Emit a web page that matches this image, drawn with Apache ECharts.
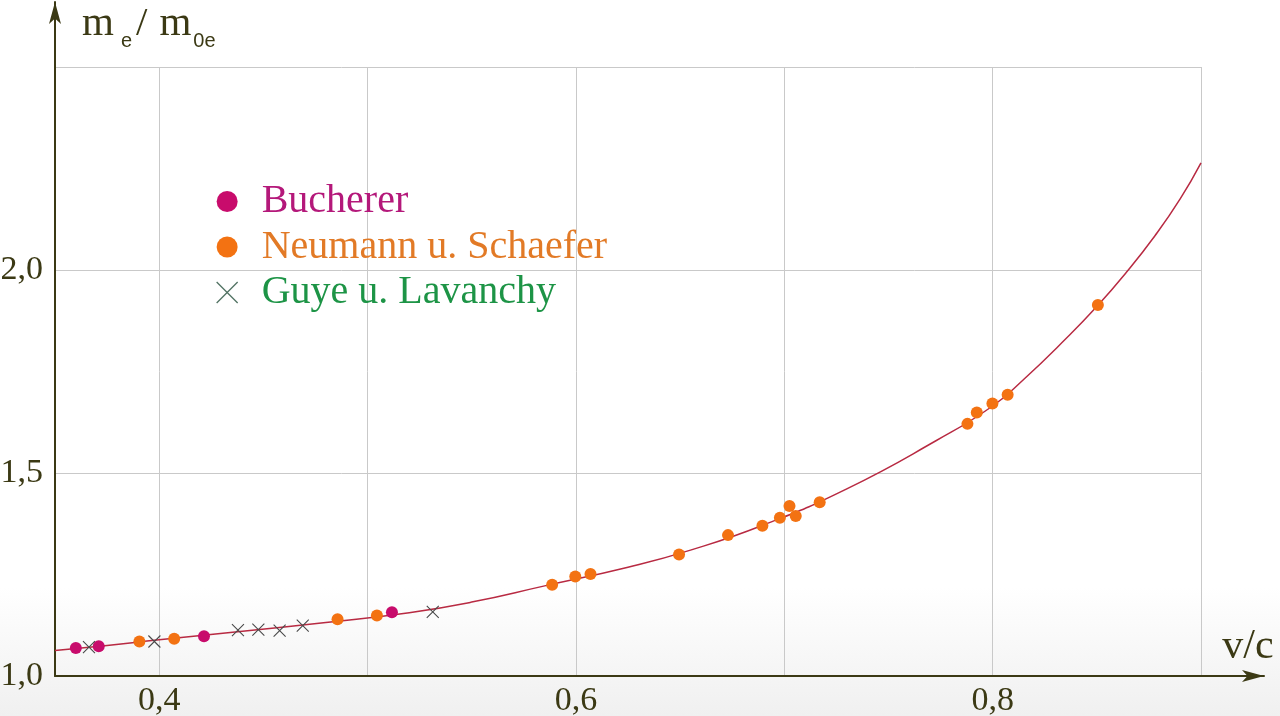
<!DOCTYPE html>
<html>
<head>
<meta charset="utf-8">
<script src="https://cdn.jsdelivr.net/npm/echarts@6/dist/echarts.min.js"></script>
<style>
html,body{margin:0;padding:0;background:#fff;}
#chart{width:1280px;height:716px;}
</style>
</head>
<body>
<div id="chart"></div>
<script>
// v/c , m_e/m_0e
var bucherer = [[0.360,1.069],[0.371,1.073],[0.4215,1.098],[0.5117,1.157]];
var neumann = [[0.3905,1.085],[0.4072,1.092],[0.4856,1.140],[0.5045,1.149],[0.5886,1.225],[0.5997,1.245],[0.6070,1.251],[0.6495,1.299],[0.6730,1.347],[0.6895,1.370],[0.6979,1.390],[0.7025,1.419],[0.7055,1.394],[0.7170,1.428],[0.7879,1.621],[0.7924,1.649],[0.7999,1.671],[0.8072,1.693],[0.8505,1.914]];
var guye = [[0.3663,1.071],[0.3977,1.085],[0.4378,1.113],[0.4476,1.114],[0.4578,1.112],[0.4689,1.124],[0.5313,1.158]];
var curve = [[0.350,1.063],[0.375,1.075],[0.400,1.089],[0.440,1.110],[0.480,1.132],[0.520,1.156],[0.550,1.182],[0.585,1.222],[0.625,1.268],[0.655,1.310],[0.690,1.372],[0.730,1.461],[0.773,1.580],[0.800,1.665],[0.815,1.731],[0.835,1.830],[0.850,1.910],[0.864,1.993],[0.878,2.085],[0.890,2.175],[0.900,2.264]];
var xTicks = [0.4,0.5,0.6,0.7,0.8,0.9];
var xLabels = [0.4,0.6,0.8];
var yTicks = [1.0,1.5,2.0,2.5];
var yLabels = [1.0,1.5,2.0];
var seriesNames = ['Bucherer','Neumann u. Schaefer','Guye u. Lavanchy'];

var FONT = '"Liberation Serif","DejaVu Serif",serif';
var SANS = '"Liberation Sans",Arial,sans-serif';
var AX = '#3b3914';
var CROSS = 'path://M0,0L10,10M10,0L0,10';
function fmt(v){return v.toFixed(1).replace('.',',');}

var chart = echarts.init(document.getElementById('chart'));
chart.setOption({
  backgroundColor: {type:'linear',x:0,y:0,x2:0,y2:1,colorStops:[{offset:0,color:'#ffffff'},{offset:0.82,color:'#ffffff'},{offset:1,color:'#f0f0f0'}]},
  animation:false,
  grid:[
    {left:55,right:79,top:67,bottom:40,containLabel:false,outerBoundsMode:'none'},
    {left:55,right:16,top:2,bottom:40,containLabel:false,outerBoundsMode:'none'}
  ],
  legend:{
    orient:'vertical',left:211,top:176,itemGap:4.5,itemWidth:21,itemHeight:21,
    textStyle:{fontFamily:FONT,fontSize:40,lineHeight:41,padding:[0,0,0,19]},
    data:[
      {name:seriesNames[0],icon:'circle',itemStyle:{color:'#c80c6c'},textStyle:{color:'#b4187a'}},
      {name:seriesNames[1],icon:'circle',itemStyle:{color:'#f37212'},textStyle:{color:'#e27a26'}},
      {name:seriesNames[2],icon:CROSS,itemStyle:{color:'transparent',borderColor:'#507262',borderWidth:1.3},textStyle:{color:'#1d9446'}}
    ]
  },
  xAxis:[
    {type:'value',gridIndex:0,min:0.35,max:0.9,
      axisLine:{show:false},axisTick:{show:false,customValues:xTicks},
      splitLine:{show:true,lineStyle:{color:'#c9c9c9',width:1}},
      axisLabel:{customValues:xLabels,formatter:fmt,fontFamily:FONT,fontSize:34,color:AX,margin:8}},
    {type:'value',gridIndex:1,min:0,max:1,
      axisLine:{show:true,symbol:['none','arrow'],symbolSize:[9,22],lineStyle:{color:AX,width:2}},
      axisTick:{show:false},axisLabel:{show:false},splitLine:{show:false},
      name:'v/c',nameLocation:'end',nameGap:-16,
      nameTextStyle:{fontFamily:FONT,fontSize:42,color:AX,align:'center',verticalAlign:'bottom',padding:[0,0,8,0]}}
  ],
  yAxis:[
    {type:'value',gridIndex:0,min:1,max:2.5,
      axisLine:{show:false},axisTick:{show:false,customValues:yTicks},
      splitLine:{show:true,lineStyle:{color:'#c9c9c9',width:1}},
      axisLabel:{customValues:yLabels,formatter:fmt,fontFamily:FONT,fontSize:34,color:AX,margin:12}},
    {type:'value',gridIndex:1,min:0,max:1,
      axisLine:{show:true,symbol:['none','arrow'],symbolSize:[9,22],lineStyle:{color:AX,width:2}},
      axisTick:{show:false},axisLabel:{show:false},splitLine:{show:false},
      name:'{m|m}{s1|e}{sl|/}{m2|m}{s2|0e}',nameLocation:'end',nameGap:-21,
      nameTextStyle:{align:'left',verticalAlign:'middle',padding:[0,0,0,27],
        rich:{
          m:{fontFamily:FONT,fontSize:41,color:AX,lineHeight:44,verticalAlign:'bottom'},
          sl:{fontFamily:FONT,fontSize:41,color:AX,lineHeight:44,verticalAlign:'bottom',padding:[0,0,0,4]},
          m2:{fontFamily:FONT,fontSize:41,color:AX,lineHeight:44,verticalAlign:'bottom',padding:[0,0,0,12]},
          s1:{fontFamily:SANS,fontSize:20,color:AX,lineHeight:30,verticalAlign:'bottom',padding:[0,0,-6,7]},
          s2:{fontFamily:SANS,fontSize:20,color:AX,lineHeight:30,verticalAlign:'bottom',padding:[0,0,-6,2]}
        }}}
  ],
  series:[
    {type:'line',name:'curve',xAxisIndex:0,yAxisIndex:0,data:curve,smooth:true,showSymbol:false,
      lineStyle:{color:'#b82a42',width:1.5},z:2,silent:true},
    {type:'scatter',name:seriesNames[1],xAxisIndex:0,yAxisIndex:0,data:neumann,symbol:'circle',symbolSize:12,
      itemStyle:{color:'#f37212',opacity:1},z:3},
    {type:'scatter',name:seriesNames[0],xAxisIndex:0,yAxisIndex:0,data:bucherer,symbol:'circle',symbolSize:12,
      itemStyle:{color:'#c80c6c',opacity:1},z:4},
    {type:'scatter',name:seriesNames[2],xAxisIndex:0,yAxisIndex:0,data:guye,symbol:CROSS,symbolSize:12,
      itemStyle:{color:'transparent',borderColor:'#4a4a4a',borderWidth:1.1,opacity:1},z:5}
  ]
});
</script>
</body>
</html>
